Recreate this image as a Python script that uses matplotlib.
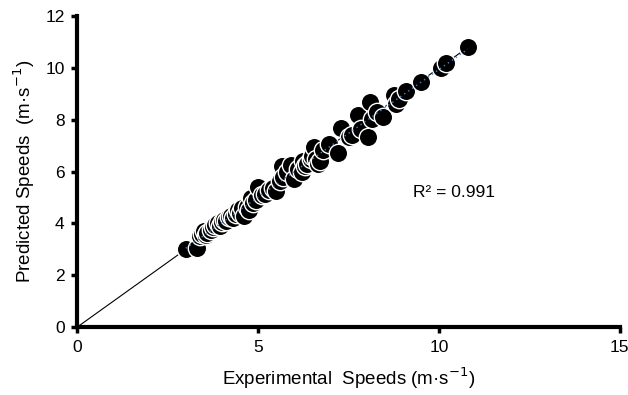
import matplotlib
matplotlib.use("Agg")
import matplotlib.pyplot as plt
import numpy as np

plt.rcParams["font.family"] = ["Liberation Sans", "DejaVu Sans"]

experimental = [
    3.0, 3.3, 3.4, 3.45, 3.5, 3.55, 3.6, 3.7, 3.75, 3.8, 3.9, 3.95,
    4.0, 4.05, 4.1, 4.2, 4.25, 4.3, 4.4, 4.45, 4.5, 4.55, 4.6, 4.7,
    4.75, 4.8, 4.85, 4.95, 5.0, 5.1, 5.2, 5.3, 5.4, 5.5, 5.6, 5.65,
    5.7, 5.8, 5.9, 6.0, 6.1, 6.2, 6.25, 6.3, 6.35, 6.45, 6.5, 6.55,
    6.6, 6.65, 6.7, 6.8, 6.95, 7.2, 7.3, 7.5, 7.6, 7.75, 7.85, 8.05,
    8.1, 8.15, 8.3, 8.45, 8.75, 8.8, 8.9, 9.1, 9.5, 10.05, 10.2, 10.8,
]
predicted = [
    3.0, 3.05, 3.5, 3.6, 3.7, 3.55, 3.65, 3.75, 3.85, 3.95, 4.0, 3.9,
    4.05, 4.15, 4.1, 4.25, 4.3, 4.2, 4.35, 4.5, 4.4, 4.6, 4.3, 4.65,
    4.5, 5.0, 4.8, 4.9, 5.4, 5.1, 5.15, 5.3, 5.35, 5.25, 5.65, 6.2,
    5.8, 6.0, 6.25, 5.7, 6.1, 6.0, 6.4, 6.2, 6.3, 6.5, 6.6, 6.95,
    6.5, 6.3, 6.4, 6.85, 7.05, 6.7, 7.7, 7.35, 7.4, 8.2, 7.65, 7.35,
    8.7, 8.05, 8.3, 8.1, 8.95, 8.6, 8.8, 9.1, 9.45, 10.0, 10.2, 10.8,
]
r2_text = "R² = 0.991"

x = np.array(experimental)
y = np.array(predicted)

fig = plt.figure(figsize=(6.28, 3.95), dpi=100)
ax = fig.add_axes([0.123, 0.172, 0.864, 0.787])

# 1:1 reference line
ax.plot([0, x.max()], [0, x.max()], color="black", linewidth=0.8, zorder=1)

ax.scatter(x, y, s=175, color="black", edgecolors="white",
           linewidths=1.0, zorder=2)

# linear trend line
slope, intercept = np.polyfit(x, y, 1)
xt = np.array([x.min(), x.max()])
ax.plot(xt, slope * xt + intercept, color="#4f81bd", linestyle=(0, (1, 2.5)),
        linewidth=1.0, zorder=3)

ax.text(9.28, 5.2, r2_text, fontsize=12.5, va="center", ha="left")

ax.set_xlim(0, 15)
ax.set_ylim(0, 12)
ax.set_xticks([0, 5, 10, 15])
ax.set_yticks(np.arange(0, 13, 2))
ax.tick_params(labelsize=12.5, width=2.5, length=4, direction="out", pad=5)

for side in ["top", "right"]:
    ax.spines[side].set_visible(False)
for side in ["left", "bottom"]:
    ax.spines[side].set_linewidth(3)

ax.set_xlabel("Experimental  Speeds (m·s$^{-1}$)", fontsize=13.5, labelpad=8)
ax.set_ylabel("Predicted Speeds  (m·s$^{-1}$)", fontsize=13.5, labelpad=6)

plt.savefig("out.png", dpi=100)
plt.close()
